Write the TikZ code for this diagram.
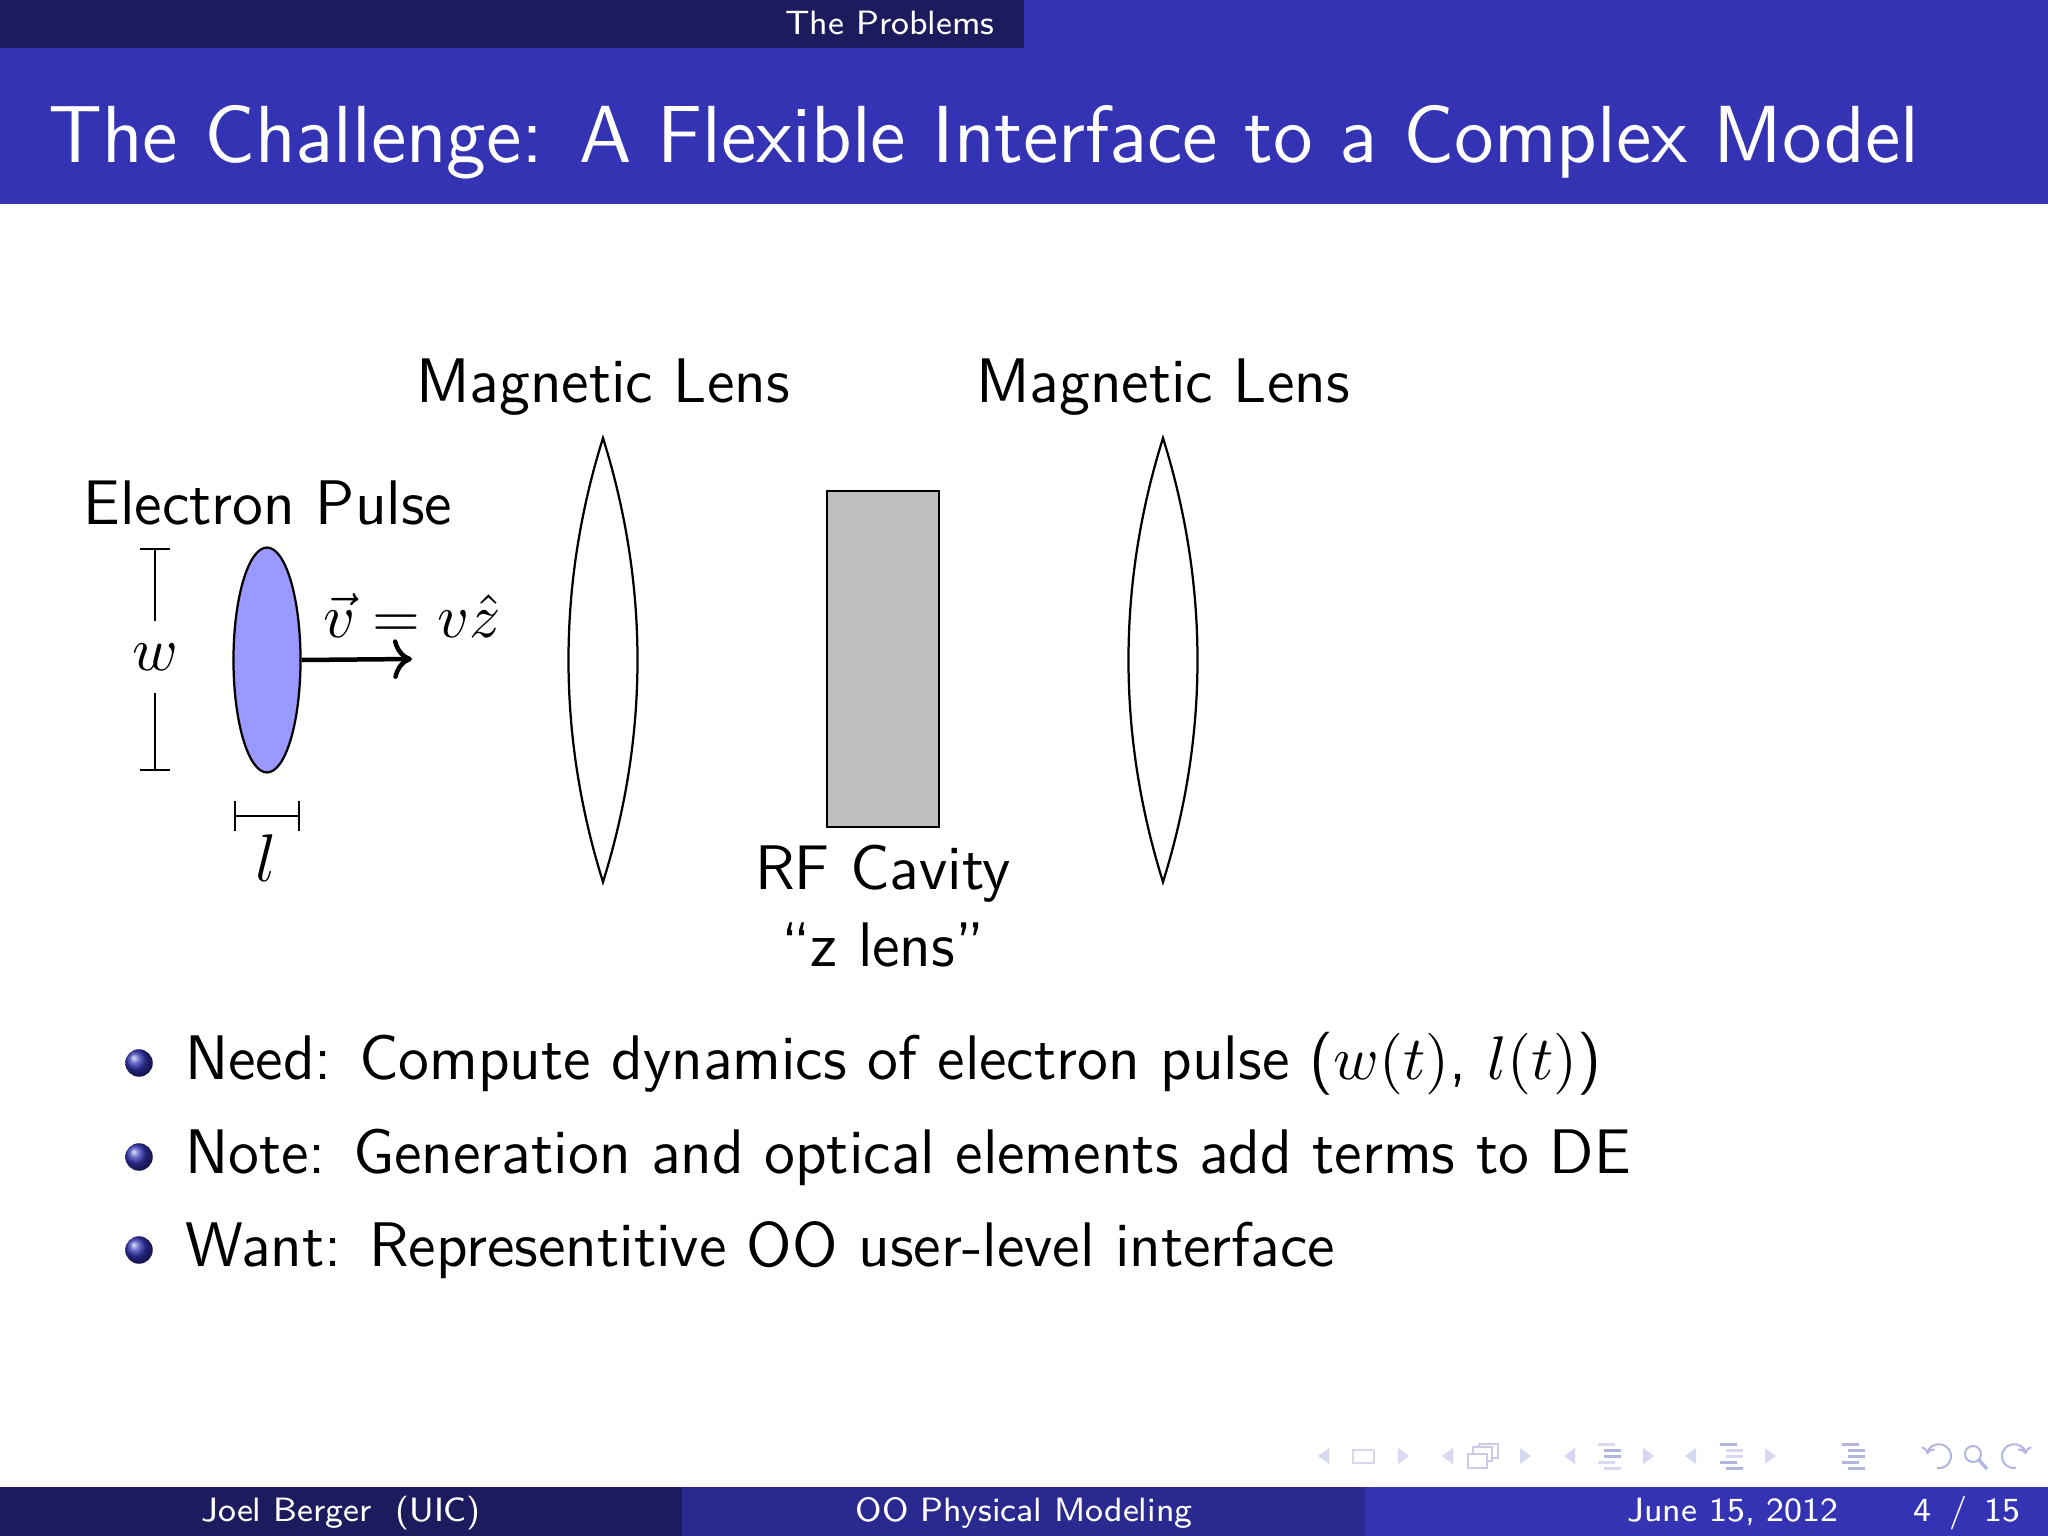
\documentclass[tikz,border=0pt]{standalone}
\usetikzlibrary{arrows.meta,shapes.geometric,positioning}

\definecolor{bar_blue}{RGB}{51,51,179}
\definecolor{bar_navy}{RGB}{27,27,94}
\definecolor{bar_mid}{RGB}{41,41,143}
\definecolor{nav_pale}{RGB}{216,216,240}
\definecolor{nav_soft}{RGB}{180,180,224}

\begin{document}
\begin{tikzpicture}
%One pixel of the slide is one unit
	[
	 	 %Styles
       x=0.0625mm,y=-0.0625mm,
       inner sep=0pt,
       band_fill/.style={fill=#1,draw=none},
       bar_text/.style={text=white,font=\fontsize{6}{7}\selectfont\sffamily,anchor=base},
       title_text/.style={text=white,font=\fontsize{14.4}{16}\selectfont\sffamily,anchor=base west},
       body_text/.style={font=\fontsize{11.2}{13}\selectfont\sffamily,anchor=base},
       item_text/.style={body_text,anchor=base west},
       lens_shape/.style={draw=black,thin},
       pulse_node/.style={ellipse,draw=black,thin,fill=blue!40,minimum width=4.19mm,minimum height=14.06mm},
       cavity_node/.style={rectangle,draw=black,thin,fill=black!25,minimum width=7mm,minimum height=21mm},
       size_label/.style={font=\fontsize{11}{13}\selectfont},
       size_bar/.style={thin,{Bar[width=5.5pt,length=0.4pt]}-},
       ball_node/.style={circle,ball color=bar_blue,minimum size=1.72mm},
       nav_tip/.style={fill=#1,draw=none}
    ]

    %Page
    \useasboundingbox (0,0) rectangle (2048,1536);
    \fill[white] (0,0) rectangle (2048,1536);

    %Bands
    \path[band_fill=bar_blue] (0,0) rectangle (2048,204);
    \path[band_fill=bar_navy] (0,0) rectangle (1024,48);
    \path[band_fill=bar_navy] (0,1487) rectangle (682,1536);
    \path[band_fill=bar_mid] (682,1487) rectangle (1365,1536);
    \path[band_fill=bar_blue] (1365,1487) rectangle (2048,1536);

    %Band text
    \node (section) [bar_text] at (890,34) {The Problems};
    \node (title) [title_text] at (47,162) {The Challenge: A Flexible Interface to a Complex Model};
    \node (author) [bar_text] at (341,1521) {Joel Berger\ \ (UIC)};
    \node (talk) [bar_text] at (1024,1521) {OO Physical Modeling};
    \node (date) [bar_text] at (1733,1521) {June 15, 2012};
    \node (page) [bar_text] at (1967,1521) {4\ \,/\ \,15};

    %Lenses
    \foreach \lensx/\lensname in {603/lens_a,1163/lens_b} {
       \draw[lens_shape] (\lensx,438) .. controls (\lensx+46,585) and (\lensx+46,735) .. (\lensx,882)
          .. controls (\lensx-46,735) and (\lensx-46,585) .. (\lensx,438) -- cycle;
       \node (\lensname) [body_text] at (\lensx,402) {Magnetic Lens};
    }

    %Pulse
    \node (pulse) [pulse_node] at (267,660) {};
    \node (pulse_text) [body_text] at (268,524) {Electron Pulse};
    \node (speed) [size_label,anchor=base] at (412,637) {$\vec{v}=v\hat{z}$};
    \coordinate (speed_end) at (412,659);
    \draw[->,thick] (pulse.east) -- (speed_end);

    %Sizes
    \coordinate (w_top) at (155,548);
    \coordinate (w_bottom) at (155,771);
    \node (w_label) [size_label,minimum height=4.31mm] at (155,657) {$w$};
    \draw[size_bar] (w_top) -- (w_label);
    \draw[size_bar] (w_bottom) -- (w_label);
    \coordinate (l_left) at (234,816);
    \coordinate (l_right) at (300,816);
    \draw[thin,{Bar[width=5.5pt,length=0.4pt]}-{Bar[width=5.5pt,length=0.4pt]}] (l_left) -- (l_right);
    \node (l_label) [anchor=base,font=\fontsize{12}{14}\selectfont] at (266,881) {$l$};

    %Cavity
    \node (cavity) [cavity_node] at (883,659) {};
    \node (cavity_text) [body_text] at (883,889) {RF Cavity};
    \node (cavity_note) [body_text] at (883,966) {``z lens''};

    %Items
    \node (ball1) [ball_node] at (139,1063) {};
    \node (ball2) [ball_node] at (139,1157) {};
    \node (ball3) [ball_node] at (139,1250) {};
    \node (item1) [item_text] at (184,1079) {Need: Compute dynamics of electron pulse ($w(t)$, $l(t)$)};
    \node (item2) [item_text] at (184,1173) {Note: Generation and optical elements add terms to DE};
    \node (item3) [item_text] at (184,1266) {Want: Representitive OO user-level interface};

    %Navigation triangles
    \foreach \leftx/\rightx in {1318/1398,1442/1520,1564/1643,1685/1765} {
       \path[nav_tip=nav_pale] (\leftx+11,1448) -- (\leftx,1456) -- (\leftx+11,1464) -- cycle;
       \path[nav_tip=nav_pale] (\rightx,1448) -- (\rightx+11,1456) -- (\rightx,1464) -- cycle;
    }

    %Navigation frames
    \draw[nav_pale,line width=0.35pt] (1353,1450) rectangle (1374,1463);
    \draw[nav_soft!70,line width=0.3pt] (1479,1444) rectangle (1498,1458);
    \draw[nav_soft!70,line width=0.3pt,fill=white] (1473,1447) rectangle (1492,1461);
    \draw[nav_soft!70,line width=0.35pt,fill=white] (1468,1454) rectangle (1487,1468);

    %Navigation lines
    \foreach \barx/\barcolor/\barcolorb in {1598/nav_pale/nav_soft,1720/nav_soft/nav_pale,1842/nav_soft/nav_soft} {
       \fill[\barcolor] (\barx,1443) rectangle ++(17,3);
       \fill[\barcolorb] (\barx+6,1449) rectangle ++(17,3);
       \fill[\barcolorb] (\barx+6,1455) rectangle ++(17,3);
       \fill[\barcolor] (\barx,1461) rectangle ++(17,3);
       \fill[\barcolor] (\barx+6,1467) rectangle ++(17,3);
    }

    %Navigation search
    \draw[nav_soft,line width=0.35pt,-{To[length=1.2pt,width=2.5pt]}] (1937,1468) arc[start angle=100,end angle=-170,radius=12];
    \draw[nav_soft,line width=0.35pt] (1973,1454) circle[radius=8];
    \draw[nav_soft,line width=0.6pt] (1979,1460) -- (1987,1469);
    \draw[nav_soft,line width=0.35pt,-{To[length=1.2pt,width=2.5pt]}] (2016,1468) arc[start angle=80,end angle=350,radius=12];
\end{tikzpicture}
\end{document}
